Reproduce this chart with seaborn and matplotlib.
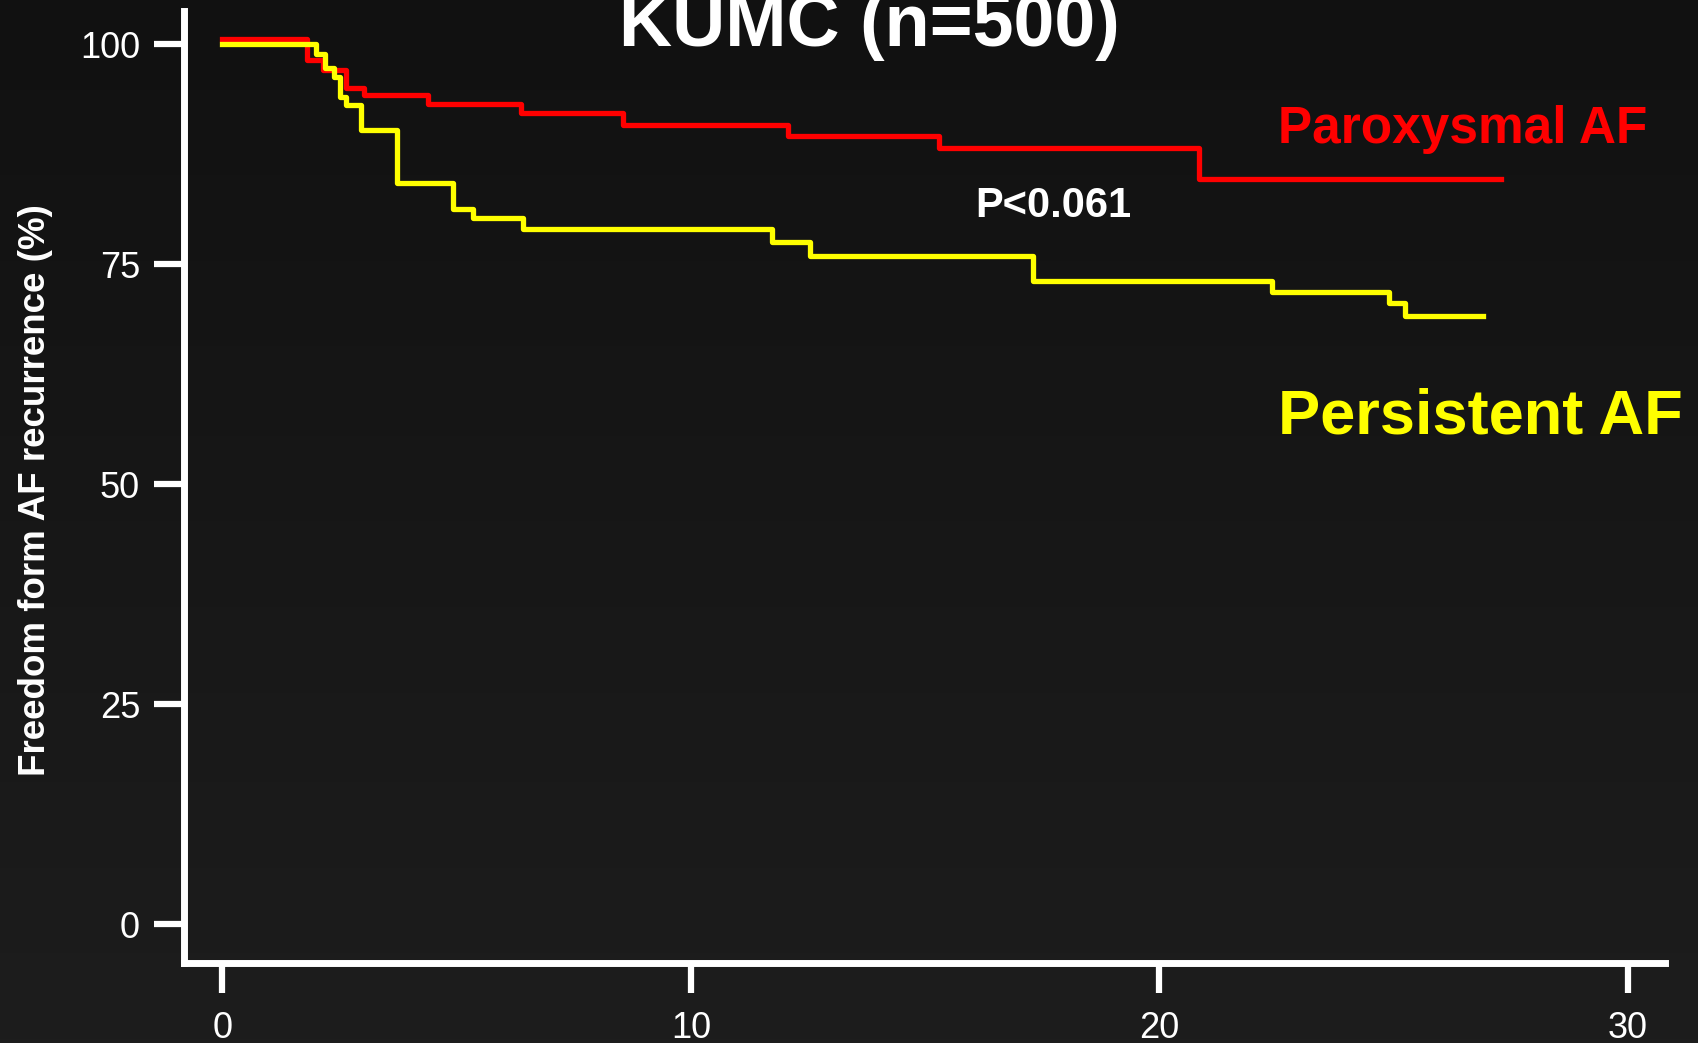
import numpy as np
import pandas as pd
import matplotlib
matplotlib.use("Agg")
import matplotlib.pyplot as plt
import seaborn as sns
from matplotlib.colors import LinearSegmentedColormap

# ---------------- data ----------------
groups = ["Paroxysmal AF", "Persistent AF"]
parox_months = [0, 1.8, 2.15, 2.63, 3.03, 4.38, 6.37, 8.54, 12.08, 15.3, 20.85, 27.3]
parox_surv = [100.6, 98.2, 97.0, 95.0, 94.2, 93.2, 92.2, 90.8, 89.5, 88.2, 84.7, 84.7]
pers_months = [0, 1.99, 2.2, 2.38, 2.52, 2.63, 2.95, 3.73, 4.92, 5.34, 6.41,
               11.74, 12.55, 17.3, 22.4, 24.9, 25.24, 26.9]
pers_surv = [100, 98.9, 97.3, 96.3, 94.0, 93.1, 90.2, 84.2, 81.3, 80.2, 79.0,
             77.5, 75.9, 73.1, 71.8, 70.6, 69.1, 69.1]
x_ticks = [0, 10, 20, 30]
y_ticks = [0, 25, 50, 75, 100]
title_text = "KUMC (n=500)"
ylabel_text = "Freedom form AF recurrence (%)"
p_text = "P<0.061"
colors = {"Paroxysmal AF": "#ff0000", "Persistent AF": "#ffff00"}

df = pd.concat([
    pd.DataFrame({"month": parox_months, "surv": parox_surv, "group": groups[0]}),
    pd.DataFrame({"month": pers_months, "surv": pers_surv, "group": groups[1]}),
], ignore_index=True)

plt.rcParams["font.family"] = ["Liberation Sans", "DejaVu Sans"]

W, H = 1698, 1043
fig = plt.figure(figsize=(W / 100, H / 100), dpi=100)

# background gradient
bg = fig.add_axes([0, 0, 1, 1], zorder=-10)
cmap = LinearSegmentedColormap.from_list("bg", ["#111111", "#1d1d1d"])
bg.imshow(np.linspace(0, 1, 256).reshape(-1, 1), cmap=cmap, aspect="auto",
          extent=[0, 1, 0, 1])
bg.axis("off")

ax = fig.add_axes([184 / W, 80 / H, (1665 - 184) / W, (1032 - 80) / H])
ax.set_facecolor("none")

sns.lineplot(data=df, x="month", y="surv", hue="group", hue_order=groups,
             palette=colors, estimator=None, drawstyle="steps-post",
             linewidth=3.8, legend=False, ax=ax)

ax.set_xlim(-0.82, 30.79)
ax.set_ylim(-4.43, 103.75)
ax.set_xticks(x_ticks)
ax.set_yticks(y_ticks)
ax.set_xlabel("")
ax.set_ylabel("")

for s in ["top", "right"]:
    ax.spines[s].set_visible(False)
for s in ["left", "bottom"]:
    ax.spines[s].set_color("white")
    ax.spines[s].set_linewidth(5)

ax.tick_params(axis="both", length=21.6, width=4.5, color="white",
               labelcolor="white", labelsize=26, direction="out")
ax.tick_params(axis="x", pad=13)
ax.tick_params(axis="y", pad=10)

# texts
fig.text(869.5 / W, (H - 46) / H, title_text, color="white", fontsize=53,
         fontweight="bold", ha="center", va="baseline")
fig.text(36 / W, (H - 490) / H, ylabel_text, color="white", fontsize=26.5,
         fontweight="bold", rotation=90, ha="center", va="center")
fig.text(1463 / W, (H - 143) / H, groups[0], color=colors[groups[0]],
         fontsize=37, fontweight="bold", ha="center", va="baseline")
fig.text(1278 / W, (H - 433) / H, groups[1], color=colors[groups[1]],
         fontsize=45.5, fontweight="bold", ha="left", va="baseline")
fig.text(975 / W, (H - 217) / H, p_text, color="white", fontsize=30,
         fontweight="bold", ha="left", va="baseline")

fig.savefig("out.png", dpi=100)
